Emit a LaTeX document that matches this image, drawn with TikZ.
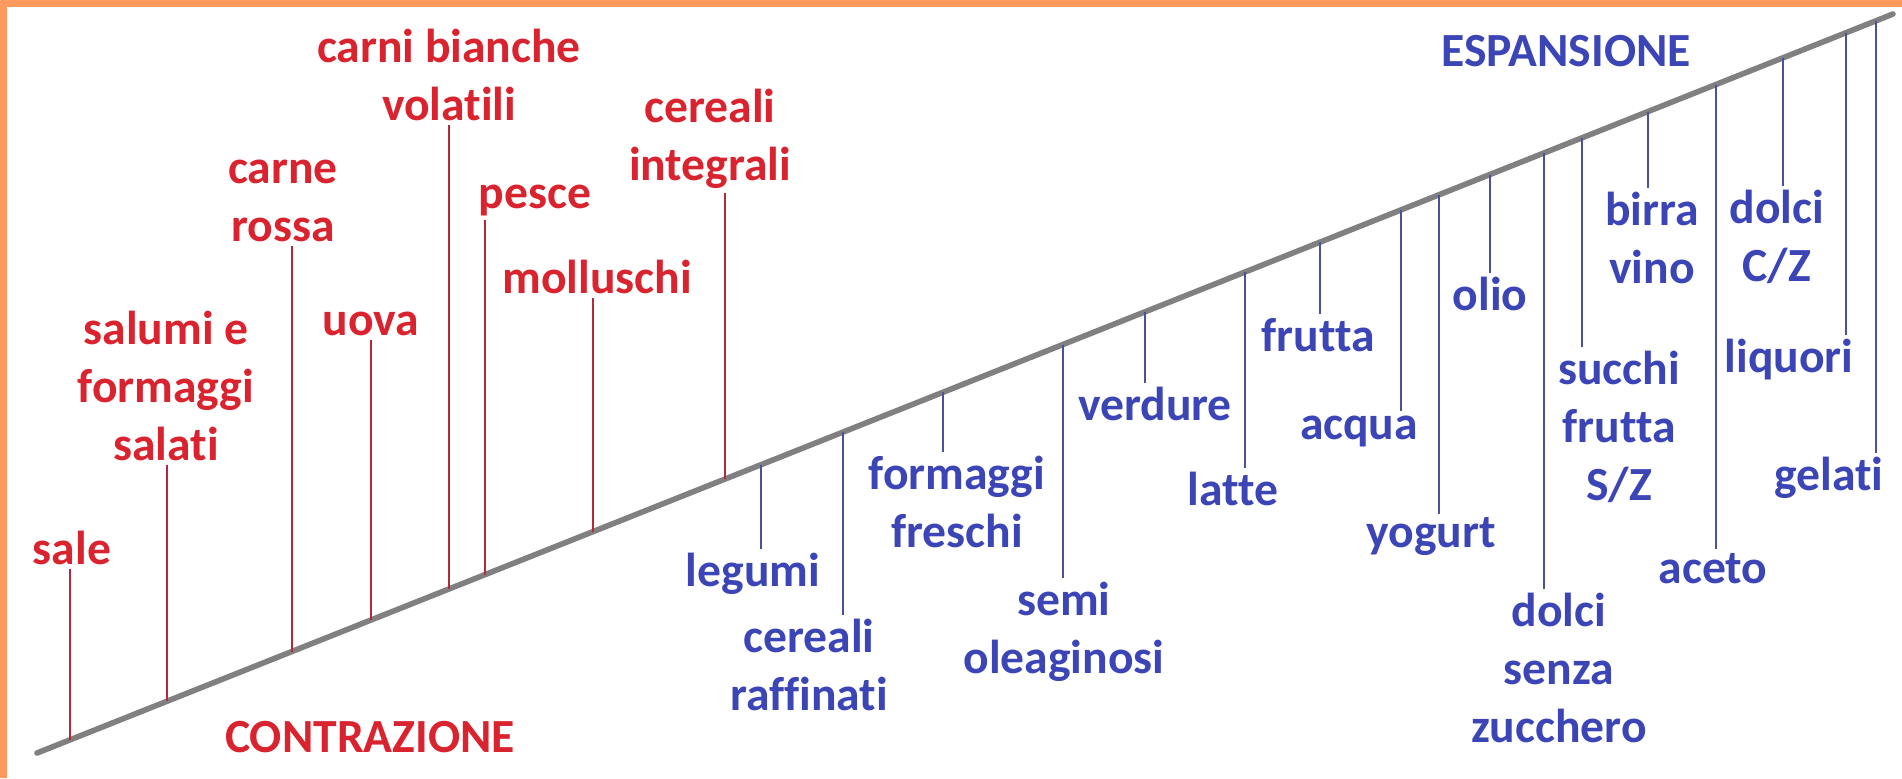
\documentclass[tikz,border=0pt]{standalone}
\usepackage{fontspec}
\setmainfont{Carlito}[Ligatures=NoCommon]
\usetikzlibrary{calc}
\definecolor{Frame}{HTML}{FF9A5E}
\definecolor{Contr}{HTML}{D9232F}
\definecolor{ContrDark}{HTML}{B42A3C}
\definecolor{Espan}{HTML}{3B45B6}
\definecolor{EspanDark}{HTML}{4A529E}
\definecolor{Axis}{HTML}{808080}

\begin{document}
\begin{tikzpicture}[x=0.5pt,y=-0.5pt]
    \tikzset{
      food/.style={align=center,font=\fontsize{23.8}{29}\selectfont\bfseries,
                   inner xsep=0pt,inner ysep=2pt},
      yin/.style={food,text=Contr},
      yang/.style={food,text=Espan},
      redtick/.style={draw=ContrDark,line width=1pt},
      bluetick/.style={draw=EspanDark,line width=1pt},
      axis/.style={draw=Axis,line width=2.8pt,line cap=round}
    }
    \useasboundingbox (0,0) rectangle (1902,778);
    \fill[white] (0,0) rectangle (1902,778);
    \fill[Frame] (0,0) rectangle (1902,7);
    \fill[Frame] (0,0) rectangle (7,778);
    % the slope
    \coordinate (low) at (37,753);
    \coordinate (high) at (1893,14);
    \draw[axis] (low) -- (high);
    \node[yin] (contr) at (370,737) {CONTRAZIONE};
    \node[yang] (espans) at (1566,51) {ESPANSIONE};
    % contrazione side
    \node[yin] (sale) at (72,548) {sale};
    \node[yin] (salumi) at (166,386) {salumi e\\formaggi\\salati};
    \node[yin] (carne) at (283,201) {carne\\rossa};
    \node[yin] (uova) at (371,324) {uova};
    \node[yin] (bianche) at (449,75) {carni bianche\\volatili};
    \node[yin] (pesce) at (535,200) {pesce};
    \node[yin] (molluschi) at (597,277) {molluschi};
    \node[yin] (integrali) at (710,139) {cereali\\integrali};
    \coordinate (t-sale) at (70,740);
    \coordinate (t-salumi) at (167,701);
    \coordinate (t-carne) at (292,651.5);
    \coordinate (t-uova) at (371,620);
    \coordinate (t-bianche) at (449,589);
    \coordinate (t-pesce) at (485,574.6);
    \coordinate (t-molluschi) at (593,531.6);
    \coordinate (t-integrali) at (725,479);
    \draw[redtick] (t-sale) -- (t-sale |- sale.south);
    \draw[redtick] (t-salumi) -- (t-salumi |- salumi.south);
    \draw[redtick] (t-carne) -- (t-carne |- carne.south);
    \draw[redtick] (t-uova) -- (t-uova |- uova.south);
    \draw[redtick] (t-bianche) -- (t-bianche |- bianche.south);
    \draw[redtick] (t-pesce) -- (t-pesce |- pesce.south);
    \draw[redtick] (t-molluschi) -- (t-molluschi |- molluschi.south);
    \draw[redtick] (t-integrali) -- (t-integrali |- integrali.south);
    % espansione side
    \node[yang] (legumi) at (753,574) {legumi};
    \node[yang] (raffinati) at (809,665) {cereali\\raffinati};
    \node[yang] (freschi) at (957,502) {formaggi\\freschi};
    \node[yang] (semi) at (1064,632) {semi\\oleaginosi};
    \node[yang] (verdure) at (1155,404) {verdure};
    \node[yang] (latte) at (1233,489) {latte};
    \node[yang] (frutta) at (1318,335) {frutta};
    \node[yang] (acqua) at (1359,431) {acqua};
    \node[yang] (yogurt) at (1431,537) {yogurt};
    \node[yang] (olio) at (1490,294) {olio};
    \node[yang] (senza) at (1559,668) {dolci\\senza\\zucchero};
    \node[yang] (succhi) at (1619,427) {succhi\\frutta\\S/Z};
    \node[yang] (birra) at (1652,238) {birra\\vino};
    \node[yang] (aceto) at (1713,569) {aceto};
    \node[yang] (dolcicz) at (1777,237) {dolci\\C/Z};
    \node[yang] (liquori) at (1789,360) {liquori};
    \node[yang] (gelati) at (1829,478) {gelati};
    \coordinate (t-legumi) at (761,464.7);
    \coordinate (t-raffinati) at (843,432);
    \coordinate (t-freschi) at (943,392.3);
    \coordinate (t-semi) at (1063,344.5);
    \coordinate (t-verdure) at (1145,311.8);
    \coordinate (t-latte) at (1245,272);
    \coordinate (t-frutta) at (1320,242.2);
    \coordinate (t-acqua) at (1401,209.9);
    \coordinate (t-yogurt) at (1439,194.8);
    \coordinate (t-olio) at (1490,174.5);
    \coordinate (t-senza) at (1544,153);
    \coordinate (t-succhi) at (1582,137.8);
    \coordinate (t-birra) at (1648,111.6);
    \coordinate (t-aceto) at (1716,84.5);
    \coordinate (t-dolcicz) at (1783,57.8);
    \coordinate (t-liquori) at (1846,32.7);
    \coordinate (t-gelati) at (1876,20.8);
    \draw[bluetick] (t-legumi) -- (t-legumi |- legumi.north);
    \draw[bluetick] (t-raffinati) -- (t-raffinati |- raffinati.north);
    \draw[bluetick] (t-freschi) -- (t-freschi |- freschi.north);
    \draw[bluetick] (t-semi) -- (t-semi |- semi.north);
    \draw[bluetick] (t-verdure) -- (t-verdure |- verdure.north);
    \draw[bluetick] (t-latte) -- (t-latte |- latte.north);
    \draw[bluetick] (t-frutta) -- (t-frutta |- frutta.north);
    \draw[bluetick] (t-acqua) -- (t-acqua |- acqua.north);
    \draw[bluetick] (t-yogurt) -- (t-yogurt |- yogurt.north);
    \draw[bluetick] (t-olio) -- (t-olio |- olio.north);
    \draw[bluetick] (t-senza) -- (t-senza |- senza.north);
    \draw[bluetick] (t-succhi) -- (t-succhi |- succhi.north);
    \draw[bluetick] (t-birra) -- (t-birra |- birra.north);
    \draw[bluetick] (t-aceto) -- (t-aceto |- aceto.north);
    \draw[bluetick] (t-dolcicz) -- (t-dolcicz |- dolcicz.north);
    \draw[bluetick] (t-liquori) -- (t-liquori |- liquori.north);
    \draw[bluetick] (t-gelati) -- (t-gelati |- gelati.north);
\end{tikzpicture}
\end{document}
